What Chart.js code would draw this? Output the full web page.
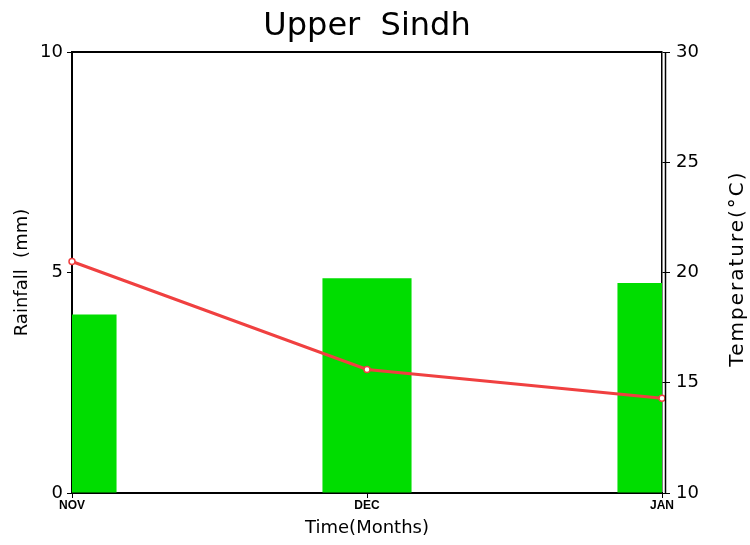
<!DOCTYPE html>
<html>
<head>
<meta charset="utf-8">
<script src="https://cdn.jsdelivr.net/npm/chart.js@4"></script>
<style>
html,body{margin:0;padding:0;background:#fff;}
#wrap{width:750px;height:545px;}
</style>
</head>
<body>
<div id="wrap"><canvas id="c" width="750" height="545"></canvas></div>
<script>
const months = ["NOV", "DEC", "JAN"];
const rainfall = [4.05, 4.87, 4.76];
const temperature = [20.5, 15.6, 14.3];
const rainTicks = [0, 5, 10];
const tempTicks = [10, 15, 20, 25, 30];
const rightTitle = 'Temperature(°C)';

const FONT = "'DejaVu Sans', 'Liberation Sans', sans-serif";

const borderPlugin = {
  id: 'borderPlugin',
  afterDatasetsDraw(chart) {
    const a = chart.chartArea, ctx = chart.ctx;
    ctx.save();
    ctx.strokeStyle = '#000';
    ctx.lineWidth = 2;
    ctx.beginPath();
    ctx.moveTo(a.left, a.top);
    ctx.lineTo(a.right, a.top);
    ctx.stroke();
    ctx.lineWidth = 1.5;
    ctx.beginPath();
    ctx.moveTo(a.right + 3.5, a.top);
    ctx.lineTo(a.right + 3.5, a.bottom);
    ctx.stroke();
    ctx.restore();
  },
  afterDraw(chart) {
    const a = chart.chartArea, ctx = chart.ctx;
    ctx.save();
    ctx.fillStyle = '#000';
    ctx.font = '20px ' + FONT;
    try { ctx.letterSpacing = '2px'; } catch (e) {}
    ctx.textAlign = 'center';
    ctx.textBaseline = 'middle';
    ctx.translate(738, (a.top + a.bottom) / 2 - 4);
    ctx.rotate(-Math.PI / 2);
    ctx.fillText(rightTitle, 0, 0);
    ctx.restore();
  }
};

new Chart(document.getElementById('c'), {
  data: {
    labels: months,
    datasets: [
      {
        type: 'line',
        label: 'Temperature',
        data: temperature,
        yAxisID: 'y1',
        borderColor: '#f04040',
        borderWidth: 3,
        pointRadius: 3,
        pointBorderWidth: 1.5,
        pointBackgroundColor: '#ffffff',
        pointBorderColor: '#f04040',
        tension: 0,
        order: 0
      },
      {
        type: 'bar',
        label: 'Rainfall',
        data: rainfall,
        yAxisID: 'y',
        backgroundColor: '#00dd00',
        borderWidth: 0,
        barPercentage: 0.302,
        categoryPercentage: 1,
        order: 1
      }
    ]
  },
  options: {
    responsive: false,
    animation: false,
    layout: { padding: 0 },
    plugins: {
      legend: { display: false },
      tooltip: { enabled: false },
      title: {
        display: true,
        text: 'Upper  Sindh',
        fullSize: false,
        color: '#000',
        font: { family: FONT, size: 32, weight: 'normal' },
        padding: { top: 7, bottom: 6.6 }
      }
    },
    scales: {
      x: {
        type: 'category',
        offset: false,
        grid: { display: true, drawOnChartArea: false, drawTicks: true, tickLength: 5, color: '#000', offset: false },
        border: { display: true, color: '#000', width: 2 },
        ticks: {
          color: '#000',
          padding: 0,
          maxRotation: 0,
          autoSkip: false,
          font: { family: "'Liberation Sans Narrow', 'Liberation Sans', sans-serif", size: 12, weight: 'bold' }
        },
        title: {
          display: true,
          text: 'Time(Months)',
          color: '#000',
          font: { family: FONT, size: 18 },
          padding: { top: 0, bottom: 6 }
        },
        afterFit(s) { s.height = 52; }
      },
      y: {
        type: 'linear',
        position: 'left',
        min: 0,
        max: 10,
        afterBuildTicks(s) { s.ticks = rainTicks.map(v => ({ value: v })); },
        grid: { display: true, drawOnChartArea: false, drawTicks: true, tickLength: 5, color: '#000' },
        border: { display: true, color: '#000', width: 2 },
        ticks: { color: '#000', padding: 4, font: { family: FONT, size: 18 } },
        title: {
          display: true,
          text: 'Rainfall  (mm)',
          color: '#000',
          font: { family: FONT, size: 18 },
          padding: { top: 12, bottom: 0 }
        },
        afterFit(s) { s.width = 72; }
      },
      y1: {
        type: 'linear',
        position: 'right',
        min: 10,
        max: 30,
        afterBuildTicks(s) { s.ticks = tempTicks.map(v => ({ value: v })); },
        grid: { display: true, drawOnChartArea: false, drawTicks: true, tickLength: 8, color: '#000' },
        border: { display: true, color: '#000', width: 1.5 },
        ticks: { color: '#000', padding: 6, font: { family: FONT, size: 18 } },
        title: { display: false },
        afterFit(s) { s.width = 88; }
      }
    }
  },
  plugins: [borderPlugin]
});
</script>
</body>
</html>
